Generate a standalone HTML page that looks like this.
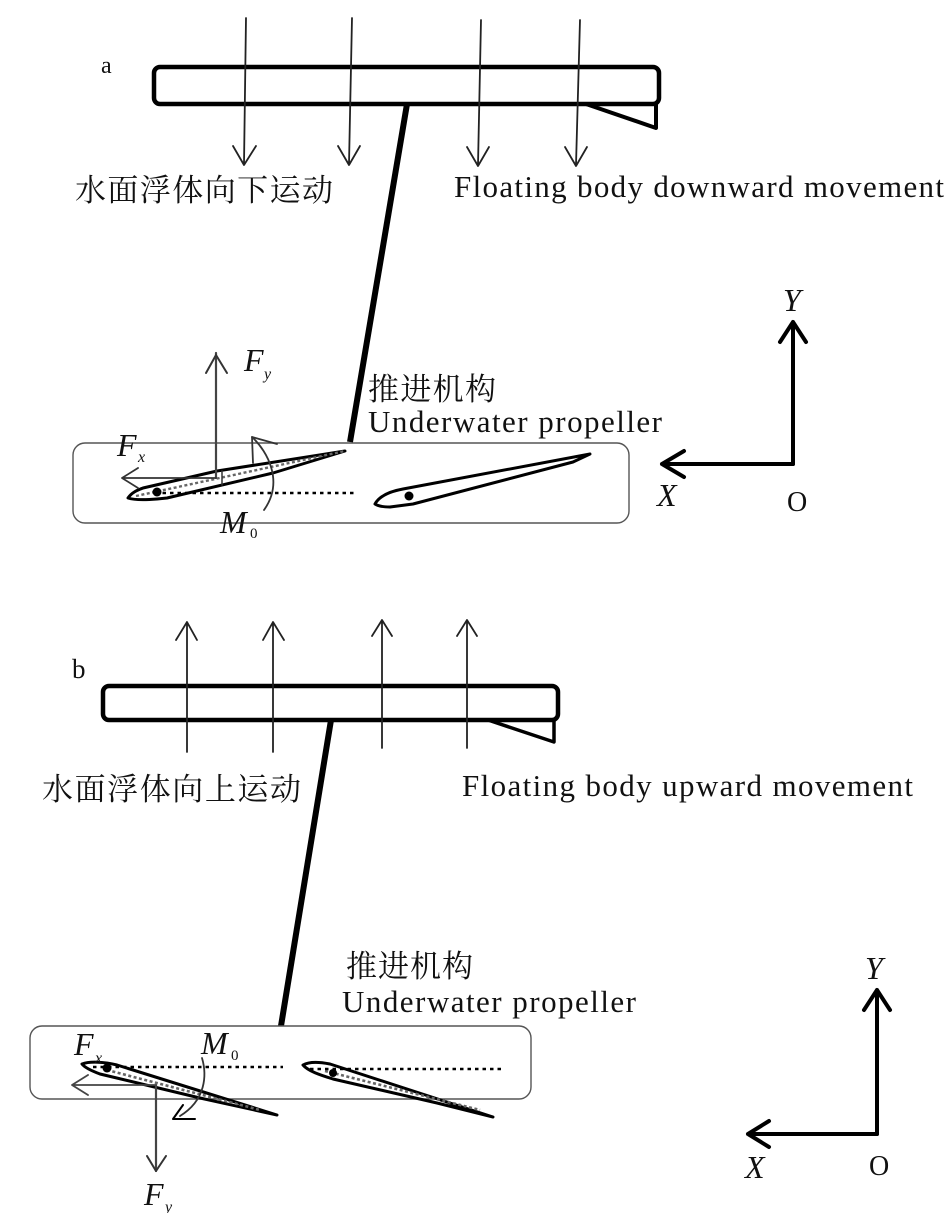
<!DOCTYPE html>
<html><head><meta charset="utf-8"><style>
html,body{margin:0;padding:0;background:#fff}
svg{display:block}
text{font-family:"Liberation Serif","Noto Serif CJK SC",serif;fill:#111}
.c{font-size:31px}
.e{font-size:31px}
.i{font-style:italic;font-size:32px}
.s{font-style:italic;font-size:16px}
.n{font-size:15px}
</style></head><body>
<svg width="945" height="1213" viewBox="0 0 945 1213" xmlns="http://www.w3.org/2000/svg">
<g fill="none" stroke="#000" stroke-linecap="round" stroke-linejoin="round">
<!-- a: floating body -->
<rect x="154" y="67" width="505" height="37" rx="6" stroke-width="4.5"/>
<path d="M586 104L656 128V104" stroke-width="4"/>
<path d="M407 104L350 442" stroke-width="6" stroke-linecap="butt"/>
<g stroke="#222" stroke-width="1.8">
<path d="M246 18L244 164M233 146L244 165L256 146"/>
<path d="M352 18L349 164M338 146L349 165L360 146"/>
<path d="M481 20L478 165M467 147L478 166L489 147"/>
<path d="M580 20L576 165M565 147L576 166L587 147"/>
</g>
<!-- a: box -->
<rect x="73" y="443" width="556" height="80" rx="12" stroke="#555" stroke-width="1.4"/>
<!-- a: left foil -->
<path d="M128 498C132 492 138 490 143 488L217 471L345 451L273 473L167 498L157 499C145 500 134 500 128 498Z" stroke-width="3"/>
<path d="M136 496L345 451" stroke="#666" stroke-width="2.4" stroke-dasharray="3 2.5" stroke-linecap="butt"/>
<path d="M155 493H355" stroke-width="2.6" stroke-dasharray="3.5 4" stroke-linecap="butt"/>
<path d="M216 353V478" stroke="#444" stroke-width="2.2"/>
<path d="M206 373L216 355L227 373" stroke="#333" stroke-width="2"/>
<path d="M216 478H122M138 468L122 478L138 488" stroke="#333" stroke-width="1.8"/>
<path d="M222 471V485" stroke="#333" stroke-width="1.5"/>
<path d="M252 437C268 452 284 482 264 510" stroke="#333" stroke-width="1.8"/>
<path d="M253 463L252 437L277 444" stroke="#333" stroke-width="1.8"/>
<!-- a: right foil -->
<path d="M375 504C380 495 392 491 403 489L590 454L573 462L413 504L390 507C384 507 378 506 375 504Z" stroke-width="3"/>
<!-- a: axes -->
<path d="M793 464V322M780 342L793 322L806 342" stroke-width="4"/>
<path d="M793 464H662M684 451L662 464L684 477" stroke-width="4"/>
<!-- b: floating body -->
<rect x="103" y="686" width="455" height="34" rx="6" stroke-width="4.5"/>
<path d="M488 720L554 742V720" stroke-width="3.5"/>
<path d="M331 720L281 1026" stroke-width="6" stroke-linecap="butt"/>
<g stroke="#222" stroke-width="1.8">
<path d="M187 752V622M176 640L187 622L197 640"/>
<path d="M273 752V622M263 640L273 622L284 640"/>
<path d="M382 748V620M372 636L382 620L392 636"/>
<path d="M467 748V620M457 636L467 620L477 636"/>
</g>
<!-- b: box -->
<rect x="30" y="1026" width="501" height="73" rx="12" stroke="#555" stroke-width="1.4"/>
<!-- b: left foil -->
<path d="M82 1064C90 1061 105 1062 117 1065L277 1115L200 1098L100 1074C92 1071 85 1068 82 1064Z" stroke-width="3"/>
<path d="M107 1070L260 1110" stroke="#666" stroke-width="2.6" stroke-dasharray="3 2.5" stroke-linecap="butt"/>
<path d="M93 1067H283" stroke-width="2.4" stroke-dasharray="3.5 4" stroke-linecap="butt"/>
<path d="M156 1085V1171" stroke="#444" stroke-width="2.2"/>
<path d="M147 1156L156 1171L166 1156" stroke="#333" stroke-width="2"/>
<path d="M155 1085H72M88 1075L72 1085L88 1095" stroke="#444" stroke-width="1.8"/>
<path d="M202 1058C207 1075 206 1100 180 1116" stroke="#333" stroke-width="1.8"/>
<path d="M183 1105L173 1119H195" stroke-width="2"/>
<!-- b: right foil -->
<path d="M303 1065C310 1061 320 1062 330 1064L493 1117L437 1103L333 1079C320 1075 308 1071 303 1065Z" stroke-width="3"/>
<path d="M325 1071L480 1110" stroke="#666" stroke-width="2.6" stroke-dasharray="3 2.5" stroke-linecap="butt"/>
<path d="M310 1069H502" stroke-width="2.4" stroke-dasharray="3.5 4" stroke-linecap="butt"/>
<!-- b: axes -->
<path d="M877 1134V990M864 1010L877 990L890 1010" stroke-width="4"/>
<path d="M877 1134H748M769 1121L748 1134L769 1147" stroke-width="4"/>
</g>
<g fill="#000">
<circle cx="157" cy="492" r="4.5"/>
<circle cx="409" cy="496" r="4.5"/>
<circle cx="107" cy="1068" r="4.5"/>
<circle cx="333" cy="1073" r="4"/>
</g>
<!-- labels -->
<text x="101" y="73" font-size="24">a</text>
<text x="72" y="678" font-size="27">b</text>
<text class="c" x="75" y="201" textLength="258" lengthAdjust="spacing">水面浮体向下运动</text>
<text class="e" x="454" y="197" textLength="490" lengthAdjust="spacing">Floating body downward movement</text>
<text class="c" x="368" y="400" textLength="128" lengthAdjust="spacing">推进机构</text>
<text class="e" x="368" y="432" textLength="294" lengthAdjust="spacing">Underwater propeller</text>
<text class="i" x="244" y="371">F</text><text class="s" x="264" y="379">y</text>
<text class="i" x="117" y="456">F</text><text class="s" x="138" y="462">x</text>
<text class="i" x="220" y="533" textLength="30">M</text><text class="n" x="250" y="538">0</text>
<text class="i" x="783" y="311">Y</text>
<text class="i" x="657" y="506">X</text>
<text x="787" y="511" font-size="28">O</text>
<text class="c" x="42" y="800" textLength="259" lengthAdjust="spacing">水面浮体向上运动</text>
<text class="e" x="462" y="796" textLength="451" lengthAdjust="spacing">Floating body upward movement</text>
<text class="c" x="346" y="977" textLength="127" lengthAdjust="spacing">推进机构</text>
<text class="e" x="342" y="1012" textLength="294" lengthAdjust="spacing">Underwater propeller</text>
<text class="i" x="74" y="1055">F</text><text class="s" x="95" y="1063">x</text>
<text class="i" x="201" y="1054" textLength="30">M</text><text class="n" x="231" y="1060">0</text>
<text class="i" x="144" y="1205">F</text><text class="s" x="165" y="1212">y</text>
<text class="i" x="865" y="979">Y</text>
<text class="i" x="745" y="1178">X</text>
<text x="869" y="1175" font-size="28">O</text>
</svg>
</body></html>
